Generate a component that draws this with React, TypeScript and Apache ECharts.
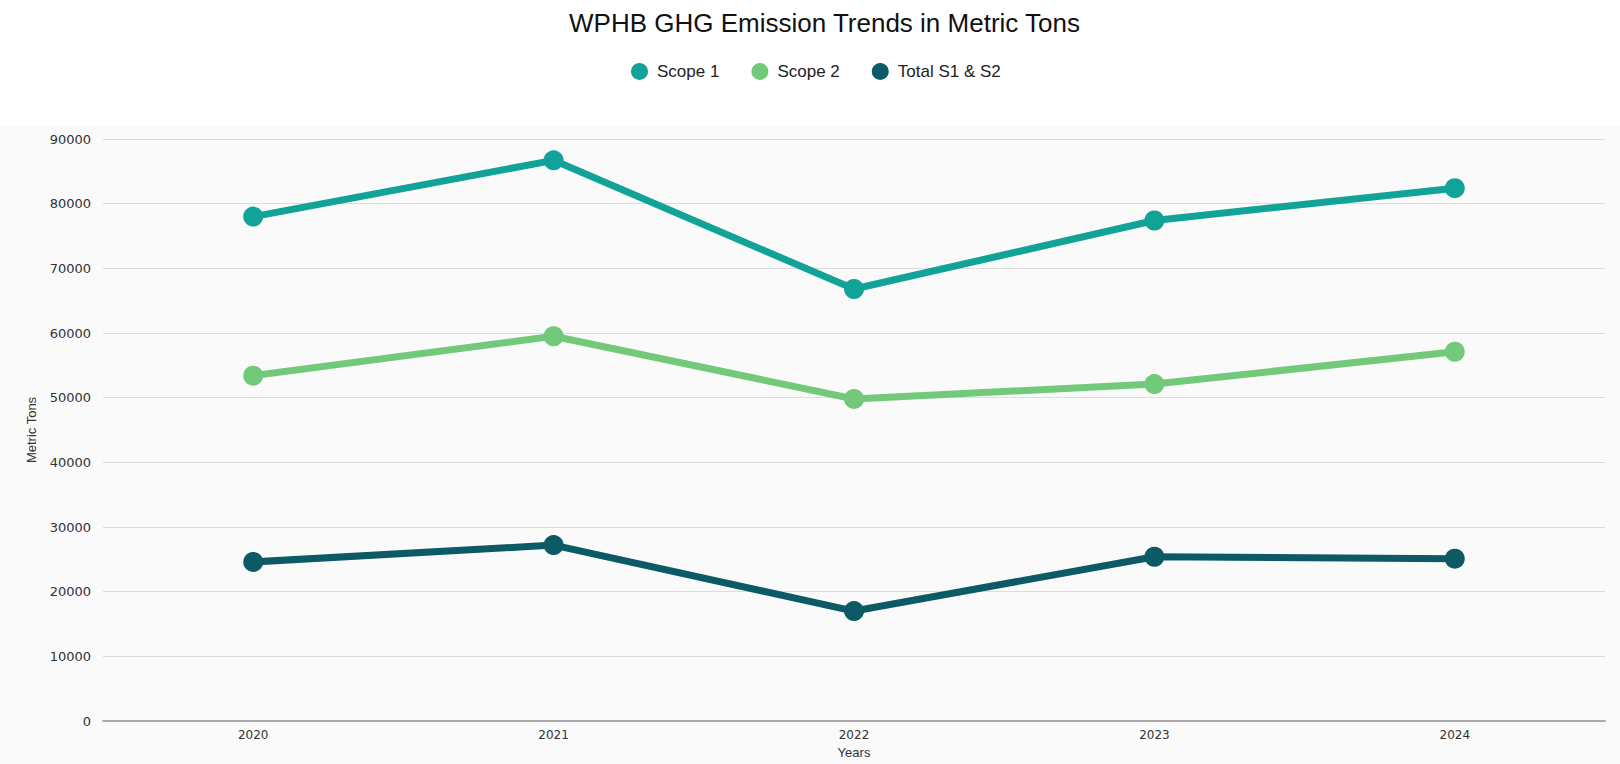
import React, { useEffect, useRef } from "react";
import * as echarts from "echarts";

const years = ["2020", "2021", "2022", "2023", "2024"];
const scope1 = [78000, 86700, 66800, 77400, 82400];
const scope2 = [53400, 59500, 49800, 52100, 57100];
const totalS1S2 = [24600, 27200, 17000, 25400, 25100];
const seriesNames = ["Scope 1", "Scope 2", "Total S1 & S2"];
const seriesColors = ["#12a398", "#72c97a", "#0b5a66"];

export default function App() {
  const ref = useRef<HTMLDivElement>(null);
  useEffect(() => {
    if (!ref.current) return;
    const chart = echarts.init(ref.current, null, { renderer: "svg" });
    const datasets = [scope1, scope2, totalS1S2];
    chart.setOption({
      animation: false,
      backgroundColor: "#ffffff",
      textStyle: { fontFamily: "Liberation Sans, Arial, sans-serif" },
      graphic: [
        {
          type: "rect",
          z: -10,
          silent: true,
          shape: { x: 0, y: 127, width: 1620, height: 640 },
          style: { fill: "#fafafa" },
        },
      ],
      title: {
        text: "WPHB GHG Emission Trends in Metric Tons",
        left: 564,
        top: 5,
        textStyle: {
          fontSize: 26,
          fontWeight: "normal",
          color: "#111111",
          fontFamily: "Liberation Sans, Arial, sans-serif",
        },
      },
      legend: {
        top: 58,
        left: 626,
        icon: "circle",
        itemWidth: 17,
        itemHeight: 17,
        itemGap: 32,
        data: seriesNames,
        textStyle: { fontSize: 17, color: "#222222", padding: [0, 0, 0, 4] },
      },
      grid: { left: 103, right: 15, top: 139, bottom: 37 },
      xAxis: {
        type: "category",
        data: years,
        boundaryGap: true,
        name: "Years",
        nameLocation: "middle",
        nameGap: 25,
        nameTextStyle: { fontSize: 13, color: "#333333" },
        axisLine: { lineStyle: { color: "#aaaaaa", width: 2 } },
        axisTick: { show: false },
        axisLabel: {
          fontSize: 12,
          color: "#333333",
          margin: 8,
          fontFamily: "DejaVu Sans, sans-serif",
        },
      },
      yAxis: {
        type: "value",
        min: 0,
        max: 90000,
        interval: 10000,
        name: "Metric Tons",
        nameLocation: "middle",
        nameGap: 65,
        nameTextStyle: { fontSize: 13, color: "#333333" },
        axisLine: { show: false },
        axisTick: { show: false },
        axisLabel: {
          fontSize: 13,
          color: "#333333",
          margin: 12,
          fontFamily: "DejaVu Sans, sans-serif",
          formatter: (v: number) => String(v),
        },
        splitLine: { lineStyle: { color: "#dddddd", width: 1 } },
      },
      series: seriesNames.map((name, i) => ({
        name,
        type: "line",
        data: datasets[i],
        symbol: "circle",
        symbolSize: 20,
        color: seriesColors[i],
        lineStyle: { width: 7, color: seriesColors[i] },
        itemStyle: { color: seriesColors[i] },
      })),
    });
    return () => chart.dispose();
  }, []);
  return (
    <div
      ref={ref}
      style={{ position: "fixed", left: 0, top: 0, width: 1620, height: 764 }}
    />
  );
}
